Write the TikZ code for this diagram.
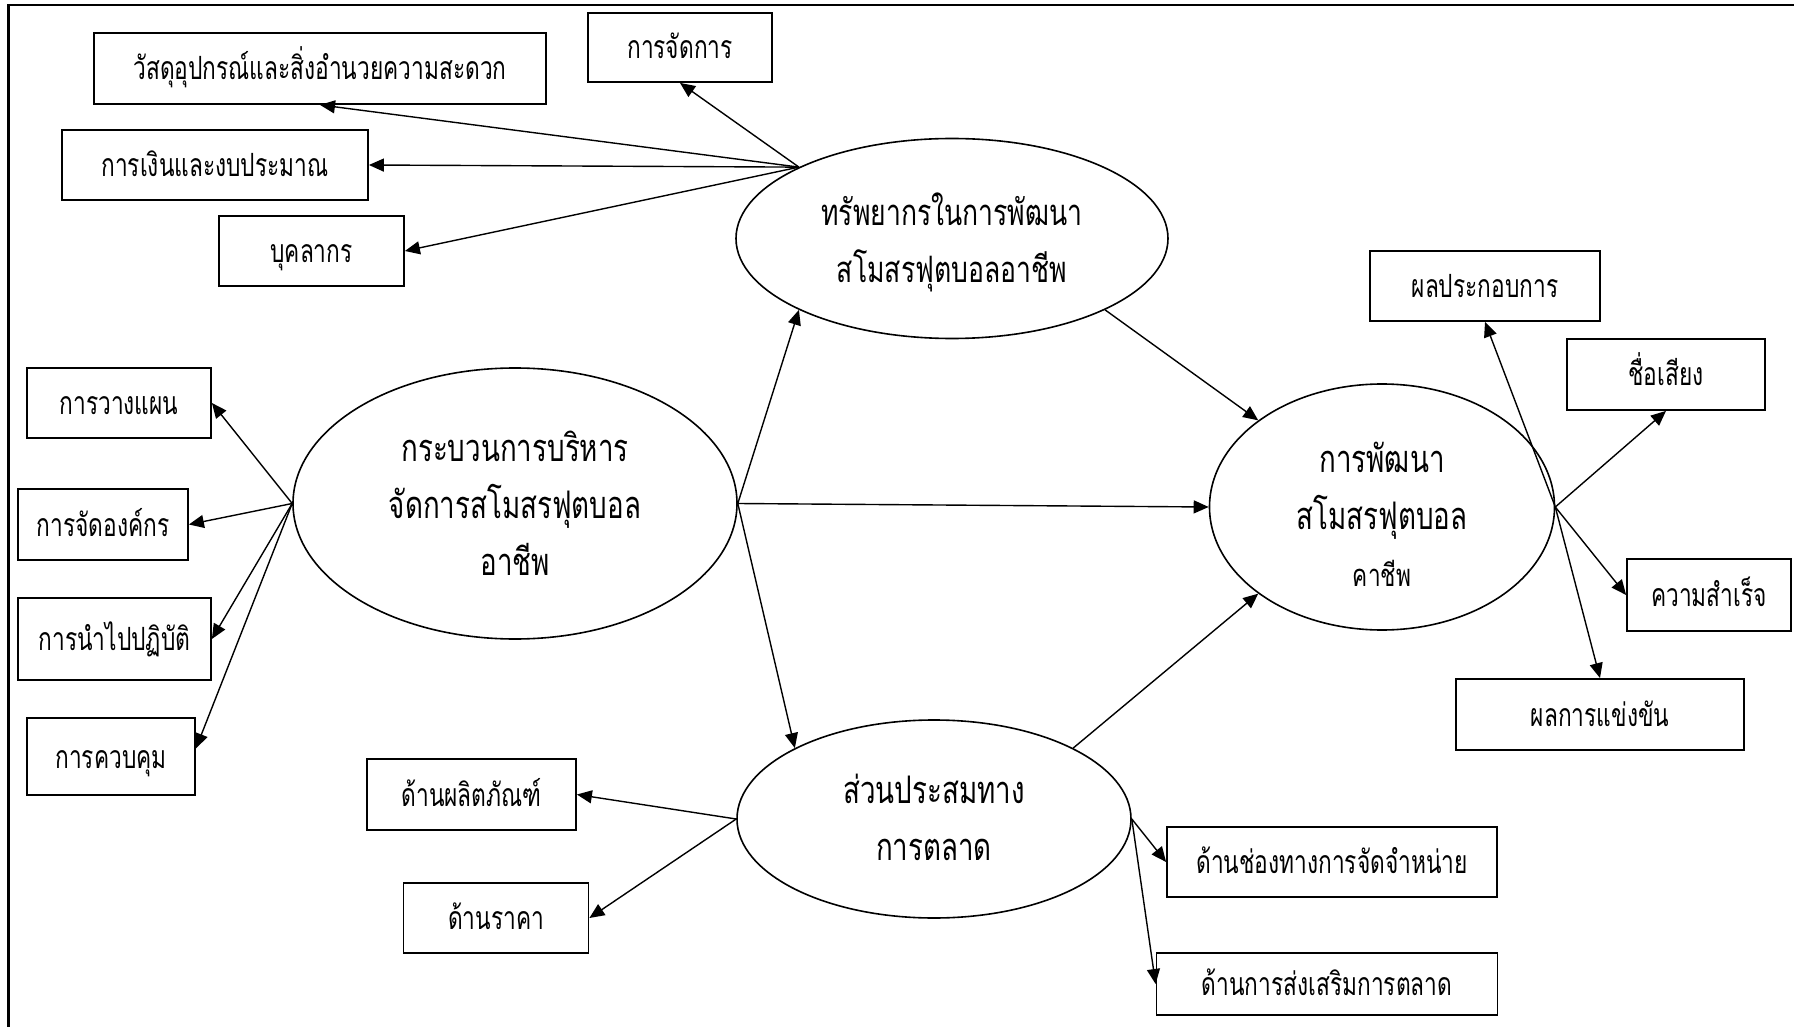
\documentclass[tikz,border=0pt]{standalone}
\usepackage{fontspec}
\newfontfamily\thaifont[Script=Thai,FakeStretch=0.71]{Loma}
\newfontfamily\thaiwide[Script=Thai,FakeStretch=0.73]{Loma}
\usetikzlibrary{arrows.meta,shapes.geometric}
\newcommand\boxfont{\thaifont\fontsize{16pt}{19pt}\selectfont}
\newcommand\ovalfont{\thaiwide\fontsize{19pt}{28.5pt}\selectfont}
\newcommand\smallovalfont{\thaiwide\fontsize{15.5pt}{28.5pt}\selectfont}
\begin{document}
\begin{tikzpicture}[x=0.5pt,y=-0.5pt,
  box/.style={draw,line width=0.9pt,rectangle,inner sep=0pt,font=\boxfont,
    text height=13pt,text depth=1.5pt},
  oval/.style={draw,line width=0.8pt,ellipse,inner sep=0pt},
  ovaltext/.style={inner sep=0pt,align=center,font=\ovalfont},
  link/.style={line width=0.7pt,-{Triangle[length=7.5pt,width=6.5pt]}}]
\useasboundingbox (0,0) rectangle (1794,1027);
% page frame (top and left rules)
\draw[line width=1.2pt] (1794,5) -- (8.6,5) -- (8.6,1027);

% central constructs: outlines
\node[oval,minimum width=216pt,minimum height=100pt] (eres) at (952,238.5) {};
\node[oval,minimum width=222pt,minimum height=135.5pt] (eproc) at (515,503.5) {};
\node[oval,minimum width=172.5pt,minimum height=123pt] (edev) at (1382,507) {};
\node[oval,minimum width=197pt,minimum height=99pt] (emix) at (934,819) {};
% central constructs: names
\node[ovaltext,font=\thaiwide\fontsize{18.2pt}{28.5pt}\selectfont] (eres-t) at (952,242.5)
  {ทรัพยากรในการพัฒนา\\สโมสรฟุตบอลอาชีพ};
\node[ovaltext] (eproc-t) at (515,503.5)
  {กระบวนการบริหาร\\จัดการสโมสรฟุตบอล\\อาชีพ};
\node[ovaltext] (edev-t) at (1382,514)
  {การพัฒนา\\สโมสรฟุตบอล\\{\smallovalfont คาชีพ}};
\node[ovaltext] (emix-t) at (934,817)
  {ส่วนประสมทาง\\การตลาด};

% resource indicators
\node[box,minimum width=226pt,minimum height=35.5pt] (bwat) at (320,68.5) {วัสดุอุปกรณ์และสิ่งอำนวยความสะดวก};
\node[box,minimum width=92pt,minimum height=34.5pt] (bjad) at (680,47.5) {การจัดการ};
\node[box,minimum width=153pt,minimum height=35pt] (bngern) at (215,165) {การเงินและงบประมาณ};
\node[box,minimum width=92.5pt,minimum height=35pt] (bbukk) at (311.5,251) {บุคลากร};

% management process indicators
\node[box,minimum width=92pt,minimum height=35pt] (bplan) at (119,403) {การวางแผน};
\node[box,minimum width=85pt,minimum height=35.5pt] (borg) at (103,524.5) {การจัดองค์กร};
\node[box,minimum width=96.5pt,minimum height=41pt] (bimpl) at (114.5,639) {การนำไปปฏิบัติ};
\node[box,minimum width=84pt,minimum height=38.5pt] (bctrl) at (111,756.5) {การควบคุม};

% marketing mix indicators
\node[box,minimum width=104.5pt,minimum height=35.5pt] (bprod) at (471.5,794.5) {ด้านผลิตภัณฑ์};
\node[box,minimum width=92.5pt,minimum height=35pt] (bprice) at (496,918) {ด้านราคา};
\node[box,minimum width=165pt,minimum height=35pt] (bchan) at (1332,862) {ด้านช่องทางการจัดจำหน่าย};
\node[box,minimum width=170.5pt,minimum height=31pt] (bpromo) at (1327,984) {ด้านการส่งเสริมการตลาด};

% development outcome indicators
\node[box,minimum width=115pt,minimum height=35pt] (bperf) at (1485,286) {ผลประกอบการ};
\node[box,minimum width=99pt,minimum height=35.5pt] (bfame) at (1666,374.5) {ชื่อเสียง};
\node[box,minimum width=82pt,minimum height=36pt] (bsucc) at (1709,595) {ความสำเร็จ};
\node[box,minimum width=144pt,minimum height=35.5pt] (bcomp) at (1600,714.5) {ผลการแข่งขัน};

% paths between constructs
\draw[link] (eproc.0) -- (eres.205);
\draw[link] (eproc.0) -- (edev.180);
\draw[link] (eproc.0) -- (emix.153);
\draw[link] (eres.335) -- (edev.145);
\draw[link] (emix.27) -- (edev.215);

% construct-to-indicator arrows
\draw[link] (eres.155) -- (bwat.south);
\draw[link] (eres.155) -- (bjad.south);
\draw[link] (eres.155) -- (bngern.east);
\draw[link] (eres.155) -- (bbukk.east);

\draw[link] (eproc.180) -- (bplan.east);
\draw[link] (eproc.180) -- (borg.east);
\draw[link] (eproc.180) -- (bimpl.east);
\draw[link] (eproc.180) -- ([yshift=4pt]bctrl.east);

\draw[link] (emix.180) -- (bprod.east);
\draw[link] (emix.180) -- (bprice.east);
\draw[link] (emix.0) -- (bchan.west);
\draw[link] (emix.0) -- (bpromo.west);

\draw[link] (edev.0) -- (bperf.south);
\draw[link] (edev.0) -- (bfame.south);
\draw[link] (edev.0) -- (bsucc.west);
\draw[link] (edev.0) -- (bcomp.north);
\end{tikzpicture}
\end{document}
